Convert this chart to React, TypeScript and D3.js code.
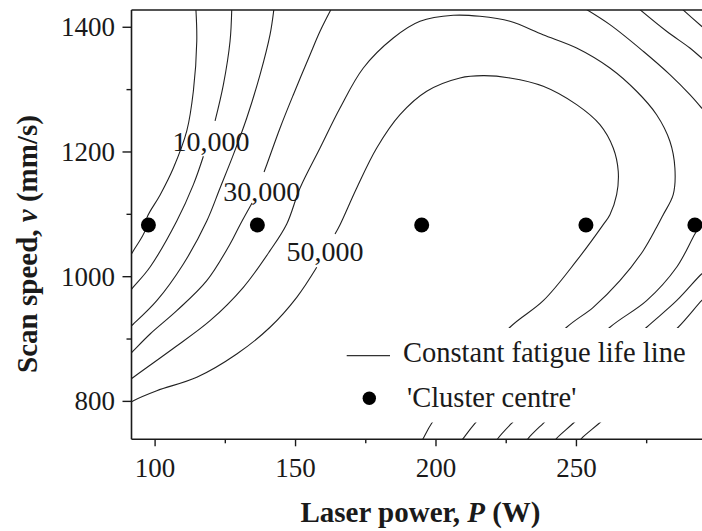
import React from "react";
import * as d3 from "d3";

// Axis domains (data units)
const xDomain: [number, number] = [91.6, 294.7];
const yDomain: [number, number] = [739.2, 1427.7];
const xMajorTicks = [100, 150, 200, 250];
const xMinorTicks = [125, 175, 225, 275];
const yMajorTicks = [800, 1000, 1200, 1400];
const yMinorTicks = [900, 1100, 1300];

// Constant fatigue life lines, [P (W), v (mm/s)]
const line1: [number, number][] = [[114.5, 1431], [114.84, 1378.0], [113.63, 1297.8], [111.28, 1233.7], [106.51, 1174.3], [101.78, 1131.0], [97.05, 1094.1], [96.44, 1073.8], [92.28, 1041.7], [91.1, 1033]];
const line2a: [number, number][] = [[127.3, 1431], [126.69, 1378.0], [124.31, 1307.9], [121.35, 1249.7]];
const line2b: [number, number][] = [[117.19, 1193.1], [113.63, 1147.6], [107.72, 1089.3], [98.22, 1015.6], [92.28, 983.5], [91.1, 977.1]];
const line3: [number, number][] = [[142.35, 1431], [140.92, 1388.1], [137.37, 1324.0], [132.63, 1254.5], [127.86, 1195.7], [123.13, 1142.3], [118.4, 1089.3], [110.07, 1020.4], [100.6, 961.5], [92.28, 924.1], [91.1, 919.3]];
const line4a: [number, number][] = [[162.9, 1431], [158.72, 1393.6], [155.16, 1356.0], [149.22, 1291.9], [144.49, 1238.5], [139.75, 1179.6], [138.79, 1167.9]];
const line4b: [number, number][] = [[134.52, 1118.2], [130.25, 1083.4], [126.69, 1052.5], [118.4, 993.6], [107.72, 945.5], [98.22, 908.1], [92.28, 881.3], [91.1, 876.0]];
const line5: [number, number][] = [[91.1, 834.3], [92.28, 838.7], [105.34, 881.3], [119.57, 929.4], [131.42, 983.0], [140.92, 1041.7], [146.87, 1084.5], [151.6, 1142.3], [158.72, 1206.4], [165.84, 1270.6], [174.13, 1334.7], [184.8, 1382.8], [194.31, 1409.6], [206.16, 1419.2], [215.66, 1417.6], [226.33, 1409.6], [238.08, 1388.1], [250.07, 1366.8], [261.92, 1334.7], [271.42, 1297.4], [278.54, 1259.8], [283.27, 1217.2], [285.05, 1174.3], [284.45, 1131.5], [280.89, 1099.4], [278.54, 1079.2], [273.77, 1041.7], [265.48, 993.6], [255.98, 950.9], [246.51, 918.9], [230.25, 842.4], [213.88, 764.9], [209.71, 740.8], [208.7, 734.9]];
const line6a: [number, number][] = [[91.1, 797.4], [92.28, 801.1], [100.6, 817.2], [114.84, 838.7], [129.07, 876.0], [140.92, 918.9], [150.43, 966.9], [157.54, 1015.1]];
const line6b: [number, number][] = [[164.06, 1068.5], [165.84, 1083.4], [171.78, 1142.3], [178.9, 1206.4], [187.19, 1259.8], [196.69, 1297.4], [208.54, 1318.7], [216.83, 1322.4], [226.33, 1318.7], [238.19, 1305.4], [250.07, 1275.9], [258.36, 1243.8], [263.1, 1206.4], [264.88, 1169.0], [264.31, 1131.5], [261.92, 1099.4], [259.54, 1083.4], [250.07, 1025.7], [238.19, 961.5], [226.33, 918.9], [212.1, 842.4], [198.47, 764.9], [195.48, 740.8], [194.7, 734.9]];
const line7: [number, number][] = [[295.38, 1092.5], [292.17, 1068.5], [285.66, 1015.1], [274.99, 961.5], [261.92, 918.9], [244.5, 842.4], [226.94, 764.9], [222.17, 741.3], [221.35, 734.9]];
const line8: [number, number][] = [[296.09, 1009.1], [294.56, 1004.3], [285.66, 961.5], [274.99, 918.9], [256.6, 842.4], [238.19, 764.9], [232.85, 740.8], [232.03, 734.9]];
const line9: [number, number][] = [[296.09, 967.4], [294.56, 961.5], [286.23, 918.9], [267.6, 842.4], [248.86, 764.9], [242.95, 740.8], [241.99, 734.9]];
const line10: [number, number][] = [[296.09, 906.5], [276.16, 834.3], [258.11, 764.9], [251.85, 740.8], [250.89, 734.9]];
const line11: [number, number][] = [[252.67, 1431], [261.92, 1404.2], [273.77, 1361.5], [283.27, 1324.0], [290.39, 1291.9], [294.56, 1270.6], [296.09, 1262.5]];
const line12: [number, number][] = [[271.89, 1431], [282.1, 1393.6], [290.39, 1366.8], [294.56, 1350.8], [296.09, 1345.9]];
const line13: [number, number][] = [[287.19, 1431], [294.56, 1401.6], [296.09, 1395.7]];

const contourLines = [line1, line2a, line2b, line3, line4a, line4b, line5, line6a, line6b, line7, line8, line9, line10, line11, line12, line13];

// Contour labels
const labelTexts = ["10,000", "30,000", "50,000"];
const labelP = [119.86, 137.97, 160.5];
const labelV = [1217.2, 1137.0, 1040.7];

// Cluster centres
const clusterP = [97.62, 136.41, 194.91, 253.38, 292.17];
const clusterV = [1083, 1083, 1083, 1083, 1083];

const legendLabels = ["Constant fatigue life line", "'Cluster centre'"];

const FONT = "Liberation Serif, Times New Roman, serif";

export default function App() {
  const W = 702, H = 531;
  const left = 131.5, right = 702, top = 10, bottom = 439.3;
  const x = d3.scaleLinear().domain(xDomain).range([left, right]);
  const y = d3.scaleLinear().domain(yDomain).range([bottom, top]);
  const line = d3
    .line<[number, number]>()
    .x((d) => x(d[0]))
    .y((d) => y(d[1]))
    .curve(d3.curveCatmullRom.alpha(0.5));
  const ink = "#1a1a1a";
  const tf = { fontFamily: FONT };

  return (
    <svg
      width={W}
      height={H}
      viewBox={`0 0 ${W} ${H}`}
      style={{ position: "absolute", left: 0, top: 0, background: "#fff" }}
    >
      <defs>
        <clipPath id="plotClip">
          <rect x={left} y={top} width={right - left} height={bottom - top} />
        </clipPath>
      </defs>
      <rect x={0} y={0} width={W} height={H} fill="#fff" />

      <g clipPath="url(#plotClip)">
        {contourLines.map((pts, i) => (
          <path key={i} d={line(pts) || ""} fill="none" stroke="#222" strokeWidth={1.1} />
        ))}
        {labelTexts.map((t, i) => (
          <text
            key={t}
            x={x(labelP[i])}
            y={y(labelV[i])}
            dy="0.35em"
            textAnchor="middle"
            fontSize={28}
            fill={ink}
            style={tf}
          >
            {t}
          </text>
        ))}
        {clusterP.map((p, i) => (
          <circle key={i} cx={x(p)} cy={y(clusterV[i])} r={7.5} fill="#000" />
        ))}
        {/* legend box (opaque) */}
        <rect x={340} y={328} width={370} height={94.5} fill="#fff" />
        <line x1={346.7} x2={390} y1={355.7} y2={355.7} stroke="#333" strokeWidth={1.3} />
        <text x={403} y={362} fontSize={28.5} fill={ink} style={tf}>
          {legendLabels[0]}
        </text>
        <circle cx={369.3} cy={398.3} r={6.7} fill="#000" />
        <text x={407} y={407} fontSize={28.5} fill={ink} style={tf}>
          {legendLabels[1]}
        </text>
      </g>

      {/* frame */}
      <line x1={left} x2={right} y1={top} y2={top} stroke={ink} strokeWidth={1.6} />
      <line x1={left} x2={left} y1={top} y2={bottom} stroke={ink} strokeWidth={1.6} />
      <line x1={left} x2={right} y1={bottom} y2={bottom} stroke={ink} strokeWidth={1.6} />

      {/* x ticks */}
      {xMajorTicks.map((t) => (
        <g key={"xM" + t}>
          <line x1={x(t)} x2={x(t)} y1={bottom} y2={bottom + 7} stroke={ink} strokeWidth={1.4} />
          <text x={x(t)} y={477} textAnchor="middle" fontSize={27} fill={ink} style={tf}>
            {t}
          </text>
        </g>
      ))}
      {xMinorTicks.map((t) => (
        <line key={"xm" + t} x1={x(t)} x2={x(t)} y1={bottom} y2={bottom + 4} stroke={ink} strokeWidth={1.4} />
      ))}

      {/* y ticks */}
      {yMajorTicks.map((t) => (
        <g key={"yM" + t}>
          <line x1={left - 9} x2={left} y1={y(t)} y2={y(t)} stroke={ink} strokeWidth={1.4} />
          <text x={115} y={y(t)} dy="0.33em" textAnchor="end" fontSize={27} fill={ink} style={tf}>
            {t}
          </text>
        </g>
      ))}
      {yMinorTicks.map((t) => (
        <line key={"ym" + t} x1={left - 5} x2={left} y1={y(t)} y2={y(t)} stroke={ink} strokeWidth={1.4} />
      ))}

      {/* axis titles */}
      <text x={420.5} y={522} textAnchor="middle" fontSize={29} fontWeight="bold" fill={ink} style={tf}>
        Laser power, <tspan fontStyle="italic">P</tspan> (W)
      </text>
      <text
        transform="translate(37,244) rotate(-90)"
        textAnchor="middle"
        fontSize={29}
        fontWeight="bold"
        fill={ink}
        style={tf}
      >
        Scan speed, <tspan fontStyle="italic">v</tspan> (mm/s)
      </text>
    </svg>
  );
}
